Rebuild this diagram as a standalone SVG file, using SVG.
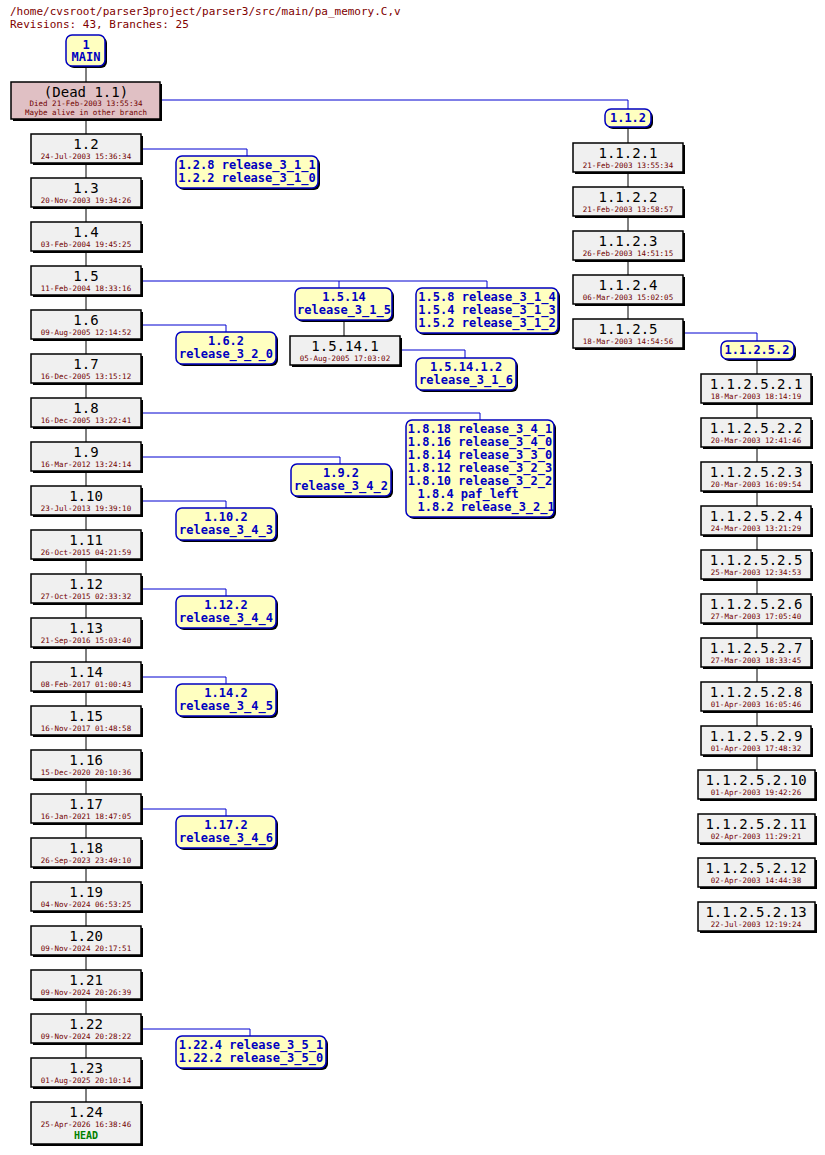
<svg xmlns="http://www.w3.org/2000/svg" width="825" height="1155" viewBox="0 0 825 1155">
<style>
text{font-family:"DejaVu Sans Mono","Liberation Mono",monospace;text-anchor:middle}
.n{fill:#f0f0f0;stroke:#000;stroke-width:1.5}
.d{fill:#e0c0c4;stroke:#000;stroke-width:1.5}
.t{fill:#ffffc0;stroke:#0000c0;stroke-width:1.5}
.sh{fill:#000}
.r{font-size:14px;fill:#000}
.dt{font-size:7.5px;fill:#700000}
.tg{font-size:12px;font-weight:bold;fill:#0000c0}
.c{stroke:#000;fill:none}
.b{stroke:#0000d0;fill:none}
</style>
<text x="10" y="15" style="text-anchor:start;font-size:11px;fill:#800000">/home/cvsroot/parser3project/parser3/src/main/pa_memory.C,v</text>
<text x="10" y="28" style="text-anchor:start;font-size:11px;fill:#800000">Revisions: 43, Branches: 25</text>
<g id="connectors">
<path class="c" d="M86 66V82M86 119V1102M628 127V143M628 171V319M757 359V374M757 402V770M344 320V336"/>
<path class="b" d="M160 100H628V109M141 149H247V156M141 281H487V288M339 281V288M401 350H465V358M141 325H226V332M141 413H480V420M141 457H340V464M141 501H226V508M141 589H226V596M141 677H226V684M141 809H226V816M141 1029H250V1036M683 333H757V341"/>
</g>
<g id="n1"><rect x="68" y="37" width="39" height="31" rx="6" class="sh"/><rect x="66" y="35" width="39" height="31" rx="6" class="t"/><text x="86" y="49" class="tg">1</text><text x="86" y="61" class="tg">MAIN</text></g>
<g id="dead"><rect x="13" y="84" width="149" height="37" class="sh"/><rect x="11" y="82" width="149" height="37" class="d"/><text x="86" y="97" class="r">(Dead 1.1)</text><text x="86" y="106" class="dt">Died 21-Feb-2003 13:55:34</text><text x="86" y="115" class="dt">Maybe alive in other branch</text></g>
<g id="trunk">
<g id="r1_2"><rect x="33" y="136" width="110" height="29" class="sh"/><rect x="31" y="134" width="110" height="29" class="n"/><text x="86" y="149" class="r">1.2</text><text x="86" y="159" class="dt">24-Jul-2003 15:36:34</text></g>
<g id="r1_3"><rect x="33" y="180" width="110" height="29" class="sh"/><rect x="31" y="178" width="110" height="29" class="n"/><text x="86" y="193" class="r">1.3</text><text x="86" y="203" class="dt">20-Nov-2003 19:34:26</text></g>
<g id="r1_4"><rect x="33" y="224" width="110" height="29" class="sh"/><rect x="31" y="222" width="110" height="29" class="n"/><text x="86" y="237" class="r">1.4</text><text x="86" y="247" class="dt">03-Feb-2004 19:45:25</text></g>
<g id="r1_5"><rect x="33" y="268" width="110" height="29" class="sh"/><rect x="31" y="266" width="110" height="29" class="n"/><text x="86" y="281" class="r">1.5</text><text x="86" y="291" class="dt">11-Feb-2004 18:33:16</text></g>
<g id="r1_6"><rect x="33" y="312" width="110" height="29" class="sh"/><rect x="31" y="310" width="110" height="29" class="n"/><text x="86" y="325" class="r">1.6</text><text x="86" y="335" class="dt">09-Aug-2005 12:14:52</text></g>
<g id="r1_7"><rect x="33" y="356" width="110" height="29" class="sh"/><rect x="31" y="354" width="110" height="29" class="n"/><text x="86" y="369" class="r">1.7</text><text x="86" y="379" class="dt">16-Dec-2005 13:15:12</text></g>
<g id="r1_8"><rect x="33" y="400" width="110" height="29" class="sh"/><rect x="31" y="398" width="110" height="29" class="n"/><text x="86" y="413" class="r">1.8</text><text x="86" y="423" class="dt">16-Dec-2005 13:22:41</text></g>
<g id="r1_9"><rect x="33" y="444" width="110" height="29" class="sh"/><rect x="31" y="442" width="110" height="29" class="n"/><text x="86" y="457" class="r">1.9</text><text x="86" y="467" class="dt">16-Mar-2012 13:24:14</text></g>
<g id="r1_10"><rect x="33" y="488" width="110" height="29" class="sh"/><rect x="31" y="486" width="110" height="29" class="n"/><text x="86" y="501" class="r">1.10</text><text x="86" y="511" class="dt">23-Jul-2013 19:39:10</text></g>
<g id="r1_11"><rect x="33" y="532" width="110" height="29" class="sh"/><rect x="31" y="530" width="110" height="29" class="n"/><text x="86" y="545" class="r">1.11</text><text x="86" y="555" class="dt">26-Oct-2015 04:21:59</text></g>
<g id="r1_12"><rect x="33" y="576" width="110" height="29" class="sh"/><rect x="31" y="574" width="110" height="29" class="n"/><text x="86" y="589" class="r">1.12</text><text x="86" y="599" class="dt">27-Oct-2015 02:33:32</text></g>
<g id="r1_13"><rect x="33" y="620" width="110" height="29" class="sh"/><rect x="31" y="618" width="110" height="29" class="n"/><text x="86" y="633" class="r">1.13</text><text x="86" y="643" class="dt">21-Sep-2016 15:03:40</text></g>
<g id="r1_14"><rect x="33" y="664" width="110" height="29" class="sh"/><rect x="31" y="662" width="110" height="29" class="n"/><text x="86" y="677" class="r">1.14</text><text x="86" y="687" class="dt">08-Feb-2017 01:00:43</text></g>
<g id="r1_15"><rect x="33" y="708" width="110" height="29" class="sh"/><rect x="31" y="706" width="110" height="29" class="n"/><text x="86" y="721" class="r">1.15</text><text x="86" y="731" class="dt">16-Nov-2017 01:48:58</text></g>
<g id="r1_16"><rect x="33" y="752" width="110" height="29" class="sh"/><rect x="31" y="750" width="110" height="29" class="n"/><text x="86" y="765" class="r">1.16</text><text x="86" y="775" class="dt">15-Dec-2020 20:10:36</text></g>
<g id="r1_17"><rect x="33" y="796" width="110" height="29" class="sh"/><rect x="31" y="794" width="110" height="29" class="n"/><text x="86" y="809" class="r">1.17</text><text x="86" y="819" class="dt">16-Jan-2021 18:47:05</text></g>
<g id="r1_18"><rect x="33" y="840" width="110" height="29" class="sh"/><rect x="31" y="838" width="110" height="29" class="n"/><text x="86" y="853" class="r">1.18</text><text x="86" y="863" class="dt">26-Sep-2023 23:49:10</text></g>
<g id="r1_19"><rect x="33" y="884" width="110" height="29" class="sh"/><rect x="31" y="882" width="110" height="29" class="n"/><text x="86" y="897" class="r">1.19</text><text x="86" y="907" class="dt">04-Nov-2024 06:53:25</text></g>
<g id="r1_20"><rect x="33" y="928" width="110" height="29" class="sh"/><rect x="31" y="926" width="110" height="29" class="n"/><text x="86" y="941" class="r">1.20</text><text x="86" y="951" class="dt">09-Nov-2024 20:17:51</text></g>
<g id="r1_21"><rect x="33" y="972" width="110" height="29" class="sh"/><rect x="31" y="970" width="110" height="29" class="n"/><text x="86" y="985" class="r">1.21</text><text x="86" y="995" class="dt">09-Nov-2024 20:26:39</text></g>
<g id="r1_22"><rect x="33" y="1016" width="110" height="29" class="sh"/><rect x="31" y="1014" width="110" height="29" class="n"/><text x="86" y="1029" class="r">1.22</text><text x="86" y="1039" class="dt">09-Nov-2024 20:28:22</text></g>
<g id="r1_23"><rect x="33" y="1060" width="110" height="29" class="sh"/><rect x="31" y="1058" width="110" height="29" class="n"/><text x="86" y="1073" class="r">1.23</text><text x="86" y="1083" class="dt">01-Aug-2025 20:10:14</text></g>
<g id="r1_24"><rect x="33" y="1104" width="110" height="42" class="sh"/><rect x="31" y="1102" width="110" height="42" class="n"/><text x="86" y="1117" class="r">1.24</text><text x="86" y="1127" class="dt">25-Apr-2026 16:38:46</text><text x="86" y="1139" style="font-size:10px;font-weight:bold;fill:#008000">HEAD</text></g>
</g>
<g id="tags">
<g id="t1_2"><rect x="178" y="158" width="142" height="32" rx="6" class="sh"/><rect x="176" y="156" width="142" height="32" rx="6" class="t"/><text x="247" y="169" class="tg">1.2.8 release_3_1_1</text><text x="247" y="182" class="tg">1.2.2 release_3_1_0</text></g>
<g id="t1_5_14"><rect x="297" y="290" width="97" height="32" rx="6" class="sh"/><rect x="295" y="288" width="97" height="32" rx="6" class="t"/><text x="344" y="301" class="tg">1.5.14</text><text x="344" y="314" class="tg">release_3_1_5</text></g>
<g id="t1_5"><rect x="418" y="290" width="142" height="45" rx="6" class="sh"/><rect x="416" y="288" width="142" height="45" rx="6" class="t"/><text x="487" y="301" class="tg">1.5.8 release_3_1_4</text><text x="487" y="314" class="tg">1.5.4 release_3_1_3</text><text x="487" y="327" class="tg">1.5.2 release_3_1_2</text></g>
<g id="r1_5_14_1"><rect x="292" y="338" width="110" height="29" class="sh"/><rect x="290" y="336" width="110" height="29" class="n"/><text x="345" y="351" class="r">1.5.14.1</text><text x="345" y="361" class="dt">05-Aug-2005 17:03:02</text></g>
<g id="t1_5_14_1"><rect x="418" y="360" width="100" height="32" rx="6" class="sh"/><rect x="416" y="358" width="100" height="32" rx="6" class="t"/><text x="466" y="371" class="tg">1.5.14.1.2</text><text x="466" y="384" class="tg">release_3_1_6</text></g>
<g id="t1_6"><rect x="178" y="334" width="100" height="32" rx="6" class="sh"/><rect x="176" y="332" width="100" height="32" rx="6" class="t"/><text x="226" y="345" class="tg">1.6.2</text><text x="226" y="358" class="tg">release_3_2_0</text></g>
<g id="t1_8"><rect x="408" y="422" width="148" height="97" rx="6" class="sh"/><rect x="406" y="420" width="148" height="97" rx="6" class="t"/>
<text x="480" y="433" class="tg">1.8.18 release_3_4_1</text><text x="480" y="446" class="tg">1.8.16 release_3_4_0</text><text x="480" y="459" class="tg">1.8.14 release_3_3_0</text><text x="480" y="472" class="tg">1.8.12 release_3_2_3</text><text x="480" y="485" class="tg">1.8.10 release_3_2_2</text><text x="417.5" y="498" class="tg" style="text-anchor:start">1.8.4 paf_left</text><text x="417.5" y="511" class="tg" style="text-anchor:start">1.8.2 release_3_2_1</text></g>
<g id="t1_9"><rect x="293" y="466" width="100" height="32" rx="6" class="sh"/><rect x="291" y="464" width="100" height="32" rx="6" class="t"/><text x="341" y="477" class="tg">1.9.2</text><text x="341" y="490" class="tg">release_3_4_2</text></g>
<g id="t1_10"><rect x="178" y="510" width="100" height="32" rx="6" class="sh"/><rect x="176" y="508" width="100" height="32" rx="6" class="t"/><text x="226" y="521" class="tg">1.10.2</text><text x="226" y="534" class="tg">release_3_4_3</text></g>
<g id="t1_12"><rect x="178" y="598" width="100" height="32" rx="6" class="sh"/><rect x="176" y="596" width="100" height="32" rx="6" class="t"/><text x="226" y="609" class="tg">1.12.2</text><text x="226" y="622" class="tg">release_3_4_4</text></g>
<g id="t1_14"><rect x="178" y="686" width="100" height="32" rx="6" class="sh"/><rect x="176" y="684" width="100" height="32" rx="6" class="t"/><text x="226" y="697" class="tg">1.14.2</text><text x="226" y="710" class="tg">release_3_4_5</text></g>
<g id="t1_17"><rect x="178" y="818" width="100" height="32" rx="6" class="sh"/><rect x="176" y="816" width="100" height="32" rx="6" class="t"/><text x="226" y="829" class="tg">1.17.2</text><text x="226" y="842" class="tg">release_3_4_6</text></g>
<g id="t1_22"><rect x="178" y="1038" width="150" height="32" rx="6" class="sh"/><rect x="176" y="1036" width="150" height="32" rx="6" class="t"/><text x="251" y="1049" class="tg">1.22.4 release_3_5_1</text><text x="251" y="1062" class="tg">1.22.2 release_3_5_0</text></g>
<g id="t1_1_2"><rect x="607" y="111" width="46" height="18" rx="6" class="sh"/><rect x="605" y="109" width="46" height="18" rx="6" class="t"/><text x="628" y="122" class="tg">1.1.2</text></g>
<g id="t1_1_2_5_2"><rect x="723" y="343" width="73" height="18" rx="6" class="sh"/><rect x="721" y="341" width="73" height="18" rx="6" class="t"/><text x="757" y="354" class="tg">1.1.2.5.2</text></g>
</g>
<g id="branch112">
<g id="r1_1_2_1"><rect x="575" y="145" width="110" height="29" class="sh"/><rect x="573" y="143" width="110" height="29" class="n"/><text x="628" y="158" class="r">1.1.2.1</text><text x="628" y="168" class="dt">21-Feb-2003 13:55:34</text></g>
<g id="r1_1_2_2"><rect x="575" y="189" width="110" height="29" class="sh"/><rect x="573" y="187" width="110" height="29" class="n"/><text x="628" y="202" class="r">1.1.2.2</text><text x="628" y="212" class="dt">21-Feb-2003 13:58:57</text></g>
<g id="r1_1_2_3"><rect x="575" y="233" width="110" height="29" class="sh"/><rect x="573" y="231" width="110" height="29" class="n"/><text x="628" y="246" class="r">1.1.2.3</text><text x="628" y="256" class="dt">26-Feb-2003 14:51:15</text></g>
<g id="r1_1_2_4"><rect x="575" y="277" width="110" height="29" class="sh"/><rect x="573" y="275" width="110" height="29" class="n"/><text x="628" y="290" class="r">1.1.2.4</text><text x="628" y="300" class="dt">06-Mar-2003 15:02:05</text></g>
<g id="r1_1_2_5"><rect x="575" y="321" width="110" height="29" class="sh"/><rect x="573" y="319" width="110" height="29" class="n"/><text x="628" y="334" class="r">1.1.2.5</text><text x="628" y="344" class="dt">18-Mar-2003 14:54:56</text></g>
</g>
<g id="branch11252">
<g id="s1"><rect x="703" y="376" width="110" height="29" class="sh"/><rect x="701" y="374" width="110" height="29" class="n"/><text x="756" y="389" class="r">1.1.2.5.2.1</text><text x="756" y="399" class="dt">18-Mar-2003 18:14:19</text></g>
<g id="s2"><rect x="703" y="420" width="110" height="29" class="sh"/><rect x="701" y="418" width="110" height="29" class="n"/><text x="756" y="433" class="r">1.1.2.5.2.2</text><text x="756" y="443" class="dt">20-Mar-2003 12:41:46</text></g>
<g id="s3"><rect x="703" y="464" width="110" height="29" class="sh"/><rect x="701" y="462" width="110" height="29" class="n"/><text x="756" y="477" class="r">1.1.2.5.2.3</text><text x="756" y="487" class="dt">20-Mar-2003 16:09:54</text></g>
<g id="s4"><rect x="703" y="508" width="110" height="29" class="sh"/><rect x="701" y="506" width="110" height="29" class="n"/><text x="756" y="521" class="r">1.1.2.5.2.4</text><text x="756" y="531" class="dt">24-Mar-2003 13:21:29</text></g>
<g id="s5"><rect x="703" y="552" width="110" height="29" class="sh"/><rect x="701" y="550" width="110" height="29" class="n"/><text x="756" y="565" class="r">1.1.2.5.2.5</text><text x="756" y="575" class="dt">25-Mar-2003 12:34:53</text></g>
<g id="s6"><rect x="703" y="596" width="110" height="29" class="sh"/><rect x="701" y="594" width="110" height="29" class="n"/><text x="756" y="609" class="r">1.1.2.5.2.6</text><text x="756" y="619" class="dt">27-Mar-2003 17:05:40</text></g>
<g id="s7"><rect x="703" y="640" width="110" height="29" class="sh"/><rect x="701" y="638" width="110" height="29" class="n"/><text x="756" y="653" class="r">1.1.2.5.2.7</text><text x="756" y="663" class="dt">27-Mar-2003 18:33:45</text></g>
<g id="s8"><rect x="703" y="684" width="110" height="29" class="sh"/><rect x="701" y="682" width="110" height="29" class="n"/><text x="756" y="697" class="r">1.1.2.5.2.8</text><text x="756" y="707" class="dt">01-Apr-2003 16:05:46</text></g>
<g id="s9"><rect x="703" y="728" width="110" height="29" class="sh"/><rect x="701" y="726" width="110" height="29" class="n"/><text x="756" y="741" class="r">1.1.2.5.2.9</text><text x="756" y="751" class="dt">01-Apr-2003 17:48:32</text></g>
<g id="s10"><rect x="700" y="772" width="117" height="29" class="sh"/><rect x="698" y="770" width="117" height="29" class="n"/><text x="756" y="785" class="r">1.1.2.5.2.10</text><text x="756" y="795" class="dt">01-Apr-2003 19:42:26</text></g>
<g id="s11"><rect x="700" y="816" width="117" height="29" class="sh"/><rect x="698" y="814" width="117" height="29" class="n"/><text x="756" y="829" class="r">1.1.2.5.2.11</text><text x="756" y="839" class="dt">02-Apr-2003 11:29:21</text></g>
<g id="s12"><rect x="700" y="860" width="117" height="29" class="sh"/><rect x="698" y="858" width="117" height="29" class="n"/><text x="756" y="873" class="r">1.1.2.5.2.12</text><text x="756" y="883" class="dt">02-Apr-2003 14:44:38</text></g>
<g id="s13"><rect x="700" y="904" width="117" height="29" class="sh"/><rect x="698" y="902" width="117" height="29" class="n"/><text x="756" y="917" class="r">1.1.2.5.2.13</text><text x="756" y="927" class="dt">22-Jul-2003 12:19:24</text></g>
</g>
</svg>
